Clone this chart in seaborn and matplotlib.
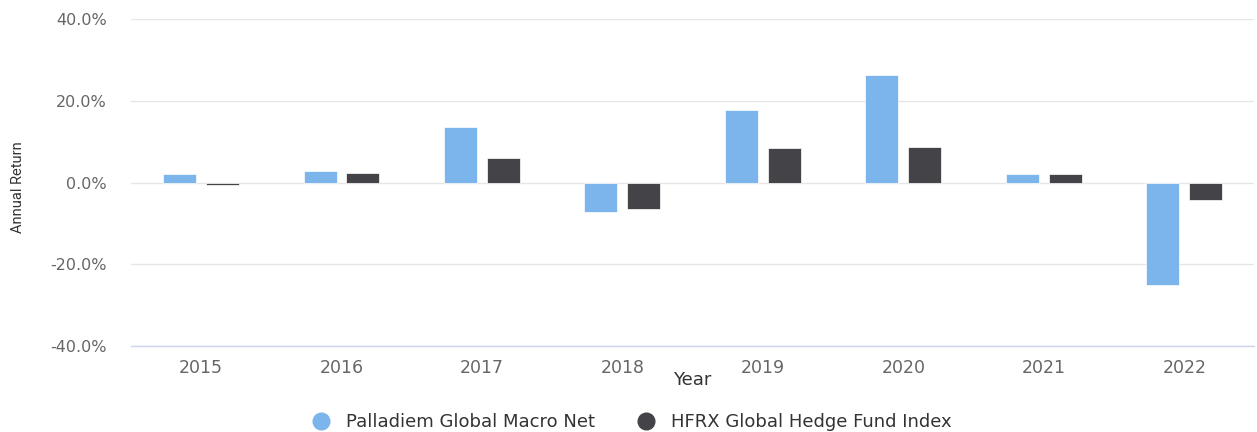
import pandas as pd
import matplotlib
matplotlib.use("Agg")
import matplotlib.pyplot as plt
import seaborn as sns
from matplotlib.lines import Line2D
from matplotlib.ticker import FuncFormatter

# --- data (annual return, %) ---
years = ["2015", "2016", "2017", "2018", "2019", "2020", "2021", "2022"]
palladiem = [2.2, 2.9, 13.7, -7.1, 17.8, 26.3, 2.2, -25.0]
hfrx = [-0.5, 2.4, 5.9, -6.6, 8.5, 8.8, 2.1, -4.3]
series_names = ["Palladiem Global Macro Net", "HFRX Global Hedge Fund Index"]
series_colors = ["#7cb5ec", "#434348"]

df = pd.DataFrame({
    "Year": years * 2,
    "Return": palladiem + hfrx,
    "Series": [series_names[0]] * len(years) + [series_names[1]] * len(years),
})

sns.set_style("white")
plt.rcParams["font.family"] = ["DejaVu Sans"]

fig = plt.figure(figsize=(12.57, 4.32), dpi=100)
ax = fig.add_axes([0.104, 0.199, 0.894, 0.757])

sns.barplot(
    data=df, x="Year", y="Return", hue="Series",
    palette=series_colors, saturation=1, width=0.61, gap=0.23,
    edgecolor="white", linewidth=0.5, ax=ax, legend=False,
    zorder=3,
)

ax.set_ylim(-40, 40)
ax.set_yticks([-40, -20, 0, 20, 40])
ax.yaxis.set_major_formatter(FuncFormatter(lambda v, _: f"{v:.1f}%"))
ax.grid(axis="y", color="#e6e6e6", linewidth=1, zorder=0)
ax.set_axisbelow(True)
for side in ["top", "right", "left"]:
    ax.spines[side].set_visible(False)
ax.spines["bottom"].set_color("#ccd6eb")
ax.spines["bottom"].set_linewidth(1)

ax.tick_params(axis="y", length=0, pad=17, labelsize=11.5, labelcolor="#666666")
ax.tick_params(axis="x", length=0, pad=9, labelsize=12.5, labelcolor="#666666")
ax.set_xlim(-0.5, len(years) - 0.5)

ax.set_xlabel("Year", fontsize=13, color="#333333", labelpad=-4)
ax.set_ylabel("Annual Return", fontsize=10.5, color="#333333",
              family=["Roboto", "DejaVu Sans"])
ax.yaxis.set_label_coords(-0.094, 0.486)

handles = [
    Line2D([0], [0], marker="o", linestyle="", markersize=12,
           markerfacecolor=c, markeredgecolor=c)
    for c in series_colors
]
fig.legend(handles, series_names, loc="lower center", ncol=2, frameon=False,
           bbox_to_anchor=(0.499, -0.035), fontsize=13, handletextpad=0.4,
           columnspacing=1.8, labelcolor="#333333")

fig.savefig("out.png", dpi=100)
